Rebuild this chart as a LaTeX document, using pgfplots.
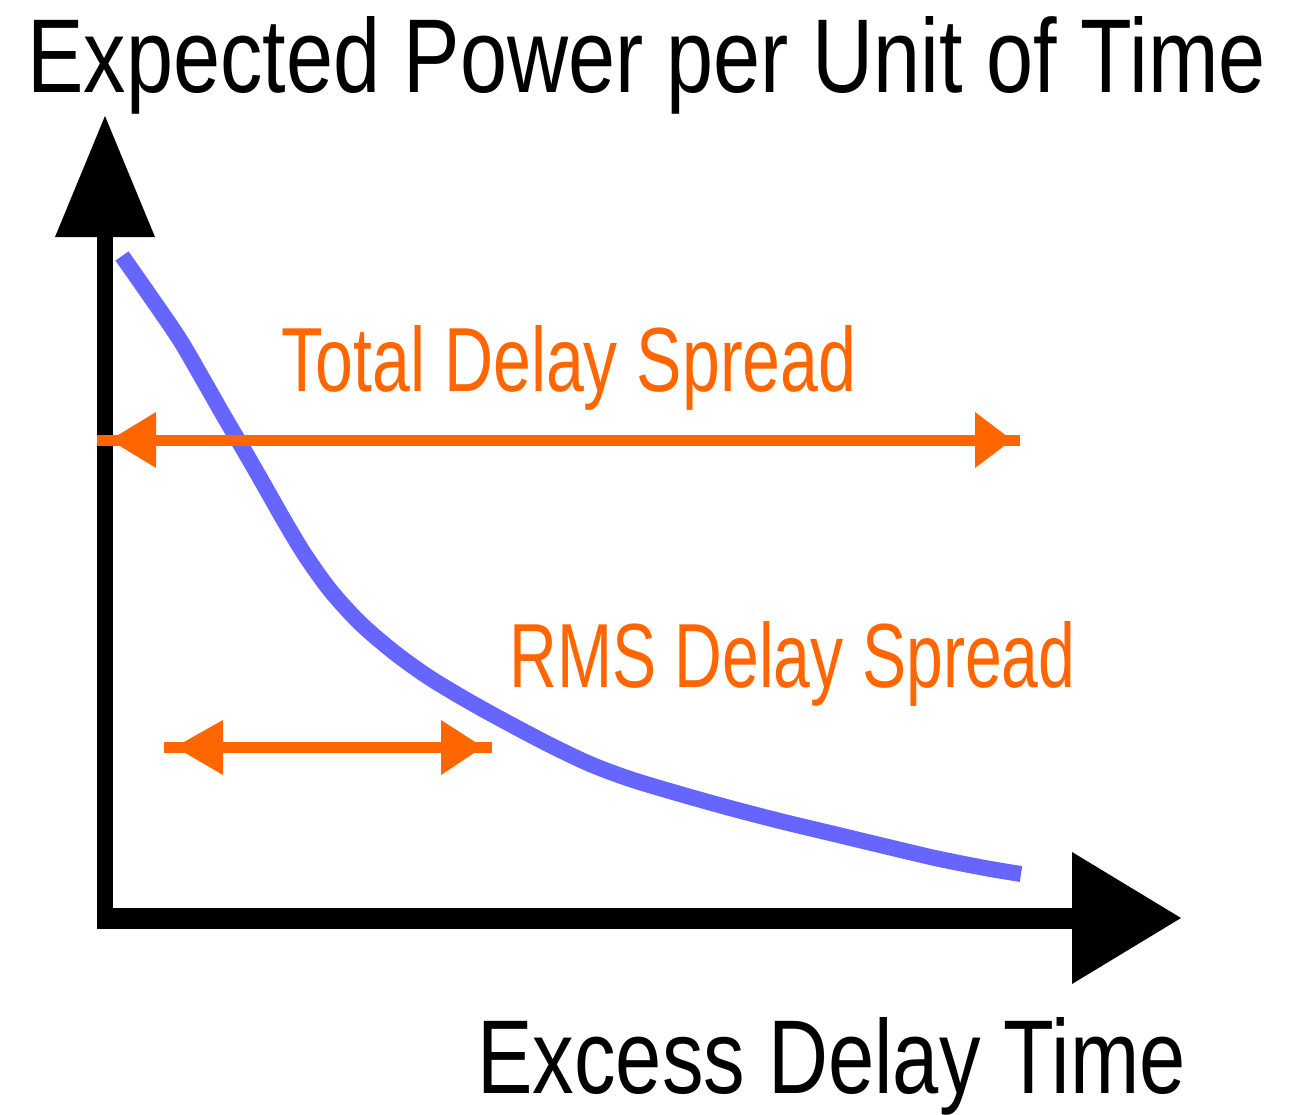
\documentclass[border=0pt]{standalone}
\usepackage{pgfplots}
\pgfplotsset{compat=1.18}
\usepackage{graphicx}
\usepackage{fontspec}
\setmainfont{Liberation Sans}
\definecolor{cblue}{HTML}{6666FF}
\definecolor{corange}{HTML}{FF6600}
\begin{document}
\begin{tikzpicture}
\begin{axis}[scale only axis, width=651pt, height=555pt,
  xmin=0, xmax=1302, ymin=0, ymax=1110, y dir=reverse,
  hide axis, clip=false]
% bounding box
\addplot[draw=none, forget plot] coordinates {(0,0) (1302,1110)};
% axes
\addplot[black, line width=8pt, line cap=butt] coordinates {(105,237) (105,928)};
\addplot[black, line width=10.5pt, line cap=butt] coordinates {(97,918) (1074,918)};
\addplot[black, fill=black, draw=none] coordinates {(55,237) (155,237) (105,116)} -- cycle;
\addplot[black, fill=black, draw=none] coordinates {(1072,852) (1072,984) (1181,918)} -- cycle;
% curve
\addplot[cblue, line width=8pt, line cap=butt, smooth, tension=0.5] coordinates {
(122,256) (150,296) (180,340) (205,383) (225,418) (245,452) (264,485)
(285,522) (305,555) (330,590) (360,623) (395,653) (430,678) (470,702)
(510,724) (550,745) (590,764) (630,779) (680,794) (730,808) (780,821)
(830,833) (880,845) (935,858) (985,868) (1021,874)};
% total delay spread arrow
\addplot[corange, line width=5.5pt, line cap=butt] coordinates {(97,440) (1020,440)};
\addplot[corange, fill=corange, draw=none] coordinates {(110,440) (156,412) (156,468)} -- cycle;
\addplot[corange, fill=corange, draw=none] coordinates {(1012,440) (975,412) (975,468)} -- cycle;
% rms arrow
\addplot[corange, line width=5.5pt, line cap=butt] coordinates {(164,747) (492,747)};
\addplot[corange, fill=corange, draw=none] coordinates {(175,747) (223,720) (223,775)} -- cycle;
\addplot[corange, fill=corange, draw=none] coordinates {(483,747) (441,720) (441,775)} -- cycle;
% texts
\node[anchor=base west, inner sep=0pt] at (axis cs:27,93) {\resizebox{619pt}{38pt}{Expected Power per Unit of Time}};
\node[anchor=base west, inner sep=0pt, text=corange] at (axis cs:281,391) {\resizebox{287.5pt}{33pt}{Total Delay Spread}};
\node[anchor=base west, inner sep=0pt, text=corange] at (axis cs:509,687) {\resizebox{283pt}{33pt}{RMS Delay Spread}};
\node[anchor=base west, inner sep=0pt] at (axis cs:477,1093) {\resizebox{354pt}{38pt}{Excess Delay Time}};
\end{axis}
\end{tikzpicture}
\end{document}
